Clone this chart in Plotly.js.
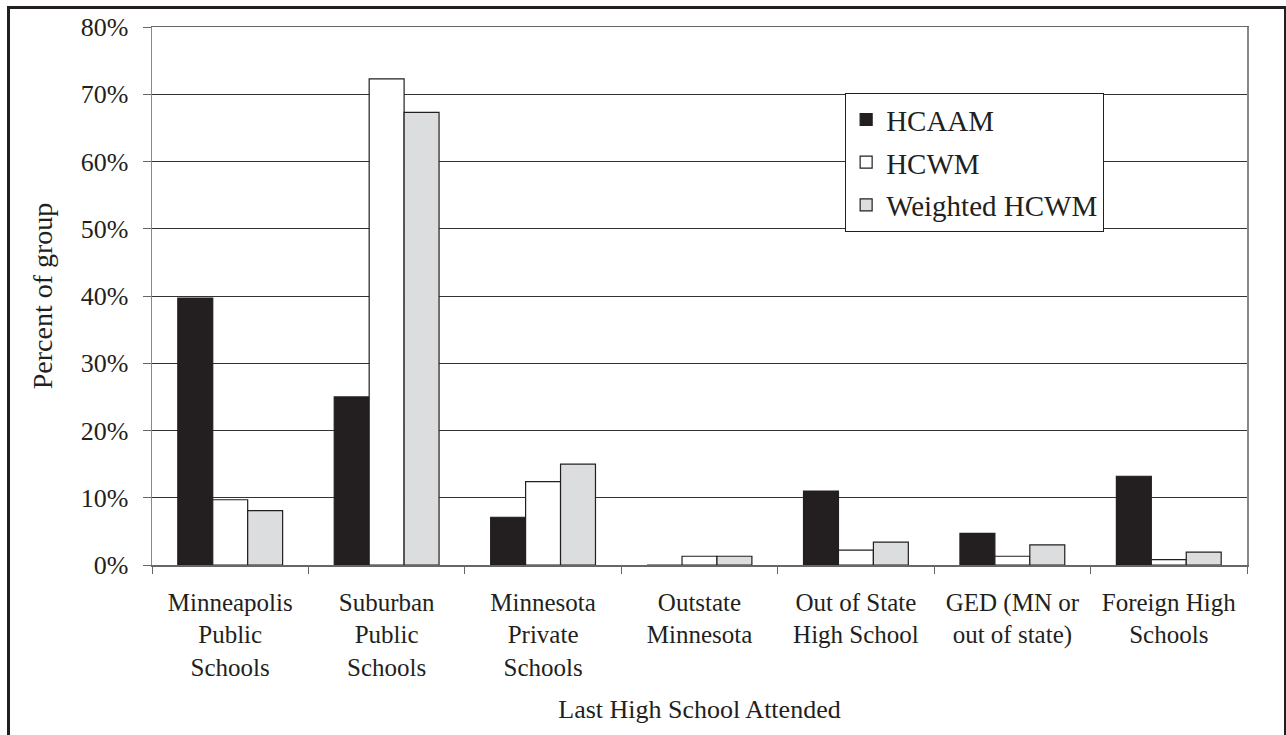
<!DOCTYPE html>
<html>
<head>
<meta charset="utf-8">
<script src="https://cdn.plot.ly/plotly-3.0.1.min.js"></script>
<style>
  html, body { margin: 0; padding: 0; background: #fff; }
  #wrap { position: relative; width: 1286px; height: 735px; overflow: hidden; }
  #chart { position: absolute; left: 0; top: 0; width: 1286px; height: 735px; }
  #frame { position: absolute; left: 7px; top: 6px; width: 1274px; height: 760px;
           border: 3px solid #231f20; pointer-events: none; }
</style>
</head>
<body>
<div id="wrap">
  <div id="chart"></div>
  <div id="frame"></div>
</div>
<script>
const categories = [
  "Minneapolis<br>Public<br>Schools",
  "Suburban<br>Public<br>Schools",
  "Minnesota<br>Private<br>Schools",
  "Outstate<br>Minnesota",
  "Out of State<br>High School",
  "GED (MN or<br>out of state)",
  "Foreign High<br>Schools"
];
const hcaam    = [0.397, 0.250, 0.071, 0.000, 0.110, 0.047, 0.132];
const hcwm     = [0.097, 0.723, 0.124, 0.013, 0.022, 0.013, 0.008];
const weighted = [0.081, 0.673, 0.150, 0.013, 0.034, 0.030, 0.019];
const seriesNames = ["HCAAM", "HCWM", "Weighted HCWM"];

const FONT = "Liberation Serif, Times New Roman, serif";
const INK = "#231f20";

const traces = [
  { type: "bar", name: seriesNames[0], x: categories, y: hcaam, legendgroup: "a",
    marker: { color: INK, line: { color: INK, width: 1.2 } } },
  { type: "bar", name: seriesNames[1], x: categories, y: hcwm, legendgroup: "b",
    marker: { color: "#ffffff", line: { color: INK, width: 1.2 } } },
  { type: "bar", name: seriesNames[2], x: categories, y: weighted, legendgroup: "c",
    marker: { color: "#dcdddf", line: { color: INK, width: 1.2 } } }
];

const layout = {
  width: 1286, height: 735,
  margin: { l: 152, r: 39, t: 27, b: 170 },
  paper_bgcolor: "#ffffff", plot_bgcolor: "#ffffff",
  font: { family: FONT, size: 24, color: INK },
  barmode: "group", bargap: 0.33, bargroupgap: 0,
  showlegend: true,
  legend: {
    x: 0.633, y: 0.877, xanchor: "left", yanchor: "top",
    bgcolor: "#ffffff", bordercolor: INK, borderwidth: 1,
    font: { family: FONT, size: 29, color: INK },
    traceorder: "grouped", tracegroupgap: 2,
    itemwidth: 30
  },
  xaxis: {
    type: "category", tickson: "boundaries",
    ticks: "outside", ticklen: 7, tickcolor: "#666", tickwidth: 1,
    showline: true, linecolor: "#666", linewidth: 1.5, mirror: true,
    showgrid: false,
    ticklabelstandoff: 14,
    tickfont: { family: FONT, size: 25, color: INK },
    title: { text: "Last High School Attended", font: { family: FONT, size: 26, color: INK }, standoff: 20 }
  },
  yaxis: {
    range: [0, 0.8], dtick: 0.1, tickformat: ".0%",
    ticks: "outside", ticklen: 8, tickcolor: "#666", tickwidth: 1,
    showline: true, linecolor: "#888", linewidth: 1.5, mirror: true,
    showgrid: true, gridcolor: "#333333", gridwidth: 1,
    zeroline: false,
    ticklabelstandoff: 9,
    tickfont: { family: FONT, size: 26, color: INK },
    title: { text: "Percent of group", font: { family: FONT, size: 28, color: INK }, standoff: 20 }
  }
};

Plotly.newPlot("chart", traces, layout, { displayModeBar: false, staticPlot: true });
</script>
</body>
</html>
